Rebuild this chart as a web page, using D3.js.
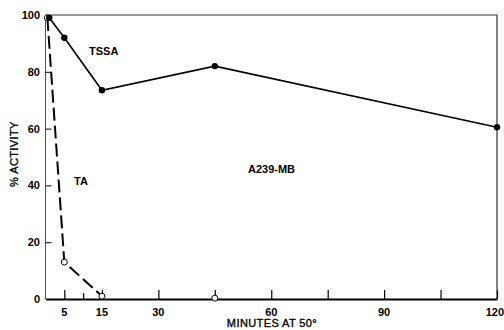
<!DOCTYPE html>
<html><head><meta charset="utf-8">
<script src="https://cdn.jsdelivr.net/npm/d3@7"></script>
<style>body{margin:0;background:#fff}svg{display:block}text{font-family:"Liberation Sans",Arial,sans-serif;fill:#000}</style>
</head><body><svg id="c" width="504" height="330"></svg>
<script>
const tssaTime = [1, 5, 15, 45, 120];
const tssaValue = [99, 92, 73.5, 82, 60.5];
const taTime = [0.5, 5, 15];
const taValue = [99, 13, 1];
const taExtraTime = [45];
const taExtraValue = [0.3];
const xTicks = [5, 10, 15, 30, 45, 60, 75, 90, 105, 120];
const xLabels = [5, 15, 30, 60, 90, 120];
const yTicks = [0, 20, 40, 60, 80, 100];

const svg = d3.select("#c");
const L = 45.5, R = 497, T = 15, B = 299;
const x = d3.scaleLinear().domain([0, 120]).range([L, R]);
const y = d3.scaleLinear().domain([0, 100]).range([B, T]);

// frame
svg.append("line").attr("x1", L).attr("x2", R).attr("y1", T).attr("y2", T).attr("stroke", "#333").attr("stroke-width", 1);
svg.append("line").attr("x1", R).attr("x2", R).attr("y1", T).attr("y2", B).attr("stroke", "#333").attr("stroke-width", 1.2);
svg.append("line").attr("x1", L).attr("x2", L).attr("y1", T).attr("y2", B).attr("stroke", "#555").attr("stroke-width", 1);

// x axis
const xAxis = d3.axisBottom(x).tickValues(xTicks).tickSize(0).tickFormat("");
const gx = svg.append("g").attr("transform", `translate(0,${B})`).call(xAxis);
gx.select(".domain").attr("stroke", "#000").attr("stroke-width", 2);
gx.selectAll(".tick line").attr("y2", d => d === 10 ? -6 : -9).attr("stroke", "#000").attr("stroke-width", 1.2);
svg.selectAll(".xl").data(xLabels).enter().append("text")
  .attr("x", d => d === 120 ? 504 : x(d)).attr("y", 316)
  .attr("text-anchor", d => d === 120 ? "end" : "middle")
  .attr("font-size", 11).attr("font-weight", "bold").text(d => d);

// y axis
const yAxis = d3.axisLeft(y).tickValues(yTicks.filter(v => v > 0 && v < 100)).tickSize(0).tickFormat("");
const gy = svg.append("g").attr("transform", `translate(${L},0)`).call(yAxis);
gy.select(".domain").remove();
gy.selectAll(".tick line").attr("x2", 6).attr("stroke", "#000").attr("stroke-width", 1);
svg.selectAll(".yl").data(yTicks).enter().append("text")
  .attr("x", 40).attr("y", d => y(d) + 4).attr("text-anchor", "end")
  .attr("font-size", 11).attr("font-weight", "bold").text(d => d);

// axis titles
svg.append("text").attr("x", 272).attr("y", 327).attr("text-anchor", "middle")
  .attr("font-size", 11).attr("letter-spacing", 0.4)
  .attr("stroke", "#000").attr("stroke-width", 0.35).text("MINUTES AT 50°");
svg.append("text").attr("transform", "translate(18,154) rotate(-90)").attr("text-anchor", "middle")
  .attr("font-size", 11).attr("letter-spacing", 0.4)
  .attr("stroke", "#000").attr("stroke-width", 0.35).text("% ACTIVITY");

// TA dashed line
const ta = taTime.map((t, i) => [t, taValue[i]]);
svg.append("path").datum(ta)
  .attr("d", d3.line().x(d => x(d[0])).y(d => y(d[1])))
  .attr("fill", "none").attr("stroke", "#000").attr("stroke-width", 2)
  .attr("stroke-dasharray", "13,5");
const taAll = ta.concat(taExtraTime.map((t, i) => [t, taExtraValue[i]]));
svg.selectAll(".ta").data(taAll).enter().append("circle")
  .attr("cx", d => x(d[0])).attr("cy", d => y(d[1])).attr("r", 3)
  .attr("fill", "#fff").attr("stroke", "#000").attr("stroke-width", 1);

// TSSA solid line
const ts = tssaTime.map((t, i) => [t, tssaValue[i]]);
svg.append("path").datum(ts)
  .attr("d", d3.line().x(d => x(d[0])).y(d => y(d[1])))
  .attr("fill", "none").attr("stroke", "#000").attr("stroke-width", 1.6);
svg.selectAll(".ts").data(ts).enter().append("circle")
  .attr("cx", d => x(d[0])).attr("cy", d => y(d[1])).attr("r", 3.2).attr("fill", "#000");

// labels
svg.append("text").attr("x", 89).attr("y", 55).attr("font-size", 11).attr("font-weight", "bold").text("TSSA");
svg.append("text").attr("x", 74).attr("y", 185).attr("font-size", 11).attr("font-weight", "bold").text("TA");
svg.append("text").attr("x", 248).attr("y", 173).attr("font-size", 11).attr("font-weight", "bold").text("A239-MB");
</script></body></html>
